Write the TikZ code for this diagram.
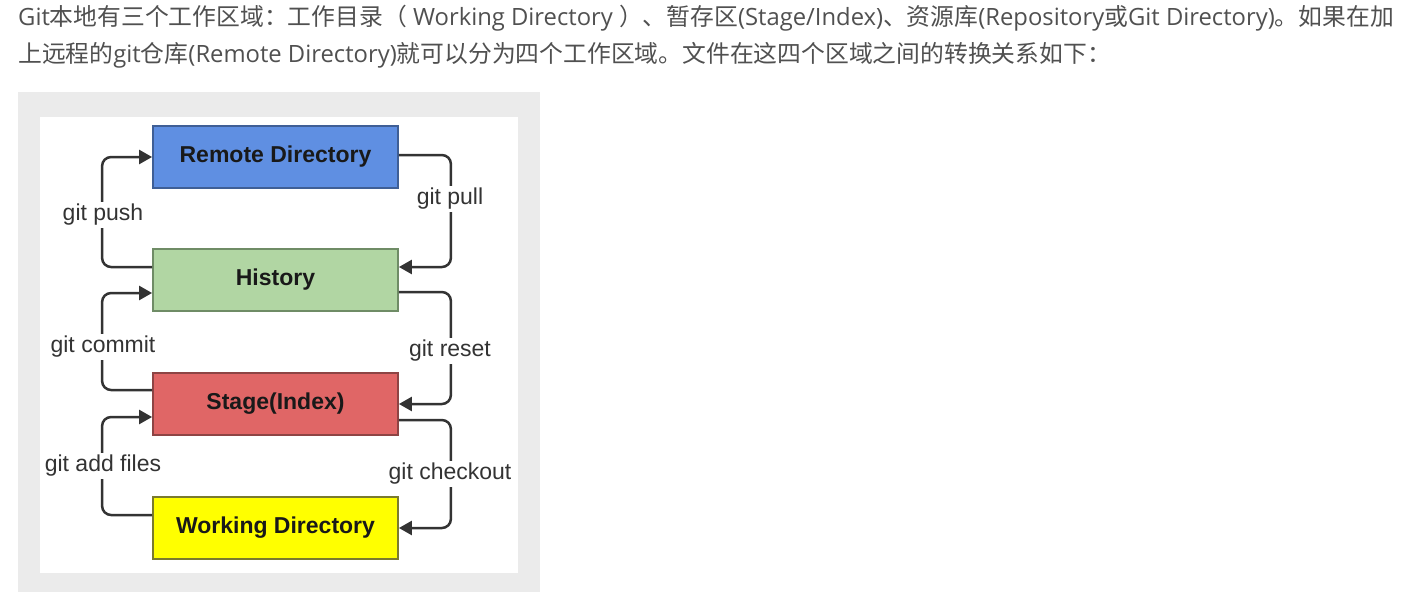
\documentclass[tikz,border=0pt]{standalone}
\usepackage{fontspec}
\setmainfont{Open Sans}
\newfontfamily\cjk{Noto Sans CJK SC}
\newfontfamily\arialf{Liberation Sans}
\usetikzlibrary{arrows.meta,calc}
\definecolor{txtgray}{HTML}{505050}
\definecolor{framegray}{HTML}{EBEBEB}
\definecolor{linegray}{HTML}{333333}
\definecolor{remotefill}{HTML}{5F8FE2}
\definecolor{remotedraw}{HTML}{3F5F96}
\definecolor{histfill}{HTML}{B1D6A3}
\definecolor{histdraw}{HTML}{6F8C66}
\definecolor{stagefill}{HTML}{E06666}
\definecolor{stagedraw}{HTML}{8E4444}
\definecolor{workfill}{HTML}{FFFF00}
\definecolor{workdraw}{HTML}{7A7A2E}
\newcommand{\zh}[1]{{\cjk #1}}
\tikzset{
  areabox/.style={minimum width=245pt, minimum height=62pt, line width=1.8pt, inner sep=0,
    font=\arialf\bfseries\fontsize{23}{26}\selectfont, text=black!90},
  conn/.style={draw=linegray, line width=2.5pt, rounded corners=9pt,
    -{Triangle[length=13pt,width=14pt]}},
  cmdlabel/.style={fill=white, inner sep=2pt, font=\arialf\fontsize{23}{26}\selectfont, text=linegray},
  intro/.style={anchor=west, inner sep=0, text=txtgray, font=\fontsize{23.8}{28}\selectfont}
}
\begin{document}
\begin{tikzpicture}[x=1pt,y=-1pt]
\useasboundingbox[fill=white] (0,0) rectangle (1407,592);
% intro text
\node[intro] (line1) at (18,18) {Git\zh{本地有三个工作区域：工作目录（} Working Directory \zh{）、暂存区}(Stage/Index)\zh{、资源库}(Repository\zh{或}Git Directory)\zh{。如果在加}};
\node[intro] (line2) at (18,55) {\zh{上远程的}git\zh{仓库}(Remote Directory)\zh{就可以分为四个工作区域。文件在这四个区域之间的转换关系如下：}};
% frame
\fill[framegray] (18,92) rectangle (540,592);
\fill[white] (40,117) rectangle (518,573);
% boxes
\node[areabox, fill=remotefill, draw=remotedraw] (remote) at (275.5,157) {Remote Directory};
\node[areabox, fill=histfill, draw=histdraw] (history) at (275.5,280) {History};
\node[areabox, fill=stagefill, draw=stagedraw] (stage) at (275.5,404) {Stage(Index)};
\node[areabox, fill=workfill, draw=workdraw] (working) at (275.5,528) {Working Directory};
% left connectors
\draw[conn] ($(history.west)+(0,-13)$) -- ++(-50,0) |- (remote.west);
\draw[conn] ($(stage.west)+(0,-14)$) -- ++(-50,0) |- ($(history.west)+(0,13)$);
\draw[conn] ($(working.west)+(0,-13)$) -- ++(-50,0) |- ($(stage.west)+(0,13)$);
% right connectors
\draw[conn] ($(remote.east)+(0,-2)$) -- ++(52,0) |- ($(history.east)+(0,-13)$);
\draw[conn] ($(history.east)+(0,12)$) -- ++(52,0) |- (stage.east);
\draw[conn] ($(stage.east)+(0,16)$) -- ++(52,0) |- (working.east);
% labels
\node[cmdlabel] (lpush) at (103,215) {git push};
\node[cmdlabel] (lpull) at (450,199) {git pull};
\node[cmdlabel] (lcommit) at (103,347) {git commit};
\node[cmdlabel] (lreset) at (450,351) {git reset};
\node[cmdlabel] (ladd) at (103,466) {git add files};
\node[cmdlabel] (lcheckout) at (450,474) {git checkout};
\end{tikzpicture}
\end{document}
